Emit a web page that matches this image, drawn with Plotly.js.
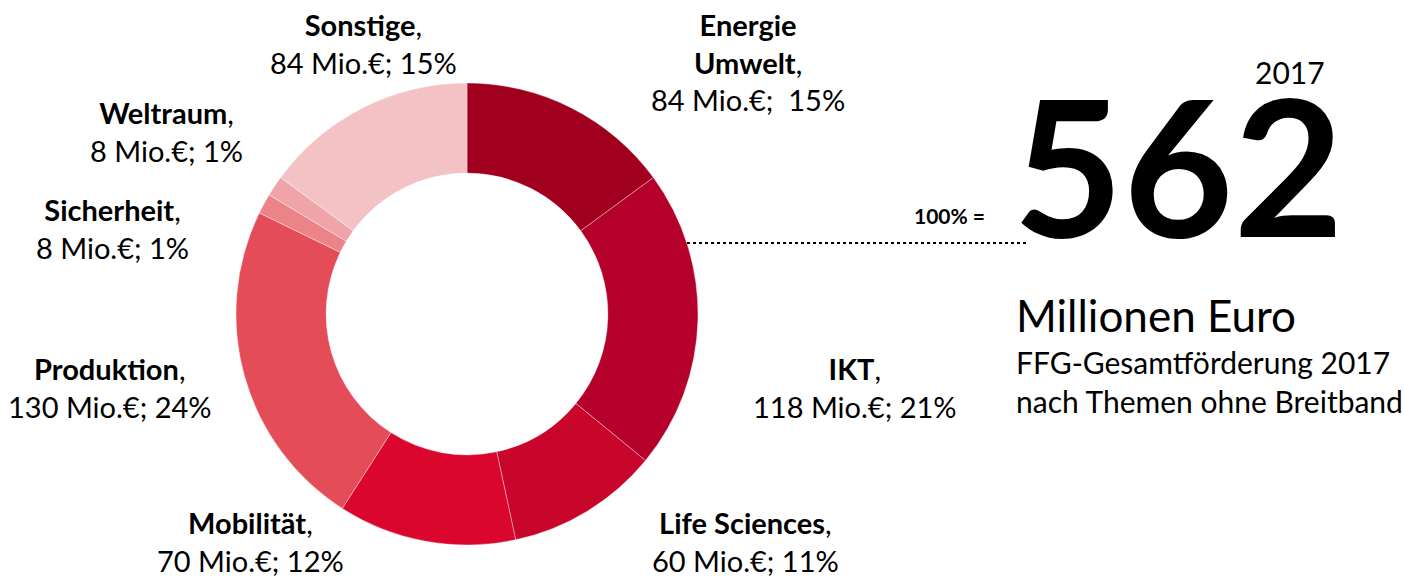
<!DOCTYPE html>
<html>
<head>
<meta charset="utf-8">
<script src="https://cdn.plot.ly/plotly-3.0.1.min.js"></script>
<style>
  body { margin: 0; background: #fff; }
  #chart { width: 1404px; height: 578px; }
</style>
</head>
<body>
<div id="chart"></div>
<script>
// FFG-Gesamtförderung 2017 nach Themen (Mio. €)
let themen = ["Energie Umwelt", "IKT", "Life Sciences", "Mobilität", "Produktion", "Sicherheit", "Weltraum", "Sonstige"];
let werte = [84, 118, 60, 70, 130, 8, 8, 84];
let prozent = [15, 21, 11, 12, 24, 1, 1, 15];
let farben = ["#A0001E", "#B4002A", "#C8062C", "#DA062E", "#E44C58", "#EB8489", "#EEA4A8", "#F2C2C5"];
let gesamt = 562;
let jahr = "2017";

const W = 1404;
const H = 578;
const px = (x) => x / W;
const py = (y) => 1 - y / H;

// label centres in pixels (x, centre y of the label block)
let labelPos = [
    [748, 62], [855, 387], [745, 541], [250, 541],
    [110, 387], [112, 228], [166, 132], [363, 43]
];

let ring = {
    type: 'pie',
    values: werte,
    labels: themen,
    marker: { colors: farben, line: { color: 'rgba(255,255,255,0.6)', width: 0.6 } },
    hole: 0.61,
    sort: false,
    direction: 'clockwise',
    rotation: 0,
    textinfo: 'none',
    hoverinfo: 'label+value+percent',
    domain: { x: [px(236), px(698)], y: [py(545), py(83)] }
};

let font = "Lato, 'Open Sans', sans-serif";
let annotations = [];

themen.forEach(function (t, i) {
    let name = t === "Energie Umwelt" ? "<b>Energie</b><br><b>Umwelt</b>" : "<b>" + t + "</b>";
    let sep = t === "Energie Umwelt" ? ";  " : "; ";
    annotations.push({
        xref: 'paper', yref: 'paper',
        x: px(labelPos[i][0]), y: py(labelPos[i][1]),
        xanchor: 'center', yanchor: 'middle',
        text: name + ",<br>" + werte[i] + " Mio.€" + sep + prozent[i] + "%",
        showarrow: false, align: 'center',
        font: { family: font, size: 29, color: '#000' }
    });
});

annotations.push(
    {
        xref: 'paper', yref: 'paper', x: px(1178), y: py(163),
        xanchor: 'center', yanchor: 'middle', showarrow: false,
        text: "<b>" + gesamt + "</b>",
        font: { family: font, size: 190, color: '#000', weight: 900 }
    },
    {
        xref: 'paper', yref: 'paper', x: px(1290), y: py(72),
        xanchor: 'center', yanchor: 'middle', showarrow: false,
        text: jahr, font: { family: font, size: 30, color: '#000' }
    },
    {
        xref: 'paper', yref: 'paper', x: px(949), y: py(216),
        xanchor: 'center', yanchor: 'middle', showarrow: false,
        text: "<b>100% =</b>", font: { family: font, size: 21, color: '#000' }
    },
    {
        xref: 'paper', yref: 'paper', x: px(1014), y: py(315),
        xanchor: 'left', yanchor: 'middle', showarrow: false,
        text: "Millionen Euro", font: { family: font, size: 44, color: '#000' }
    },
    {
        xref: 'paper', yref: 'paper', x: px(1014), y: py(381),
        xanchor: 'left', yanchor: 'middle', showarrow: false, align: 'left',
        text: "FFG-Gesamtförderung " + jahr + "<br>nach Themen ohne Breitband",
        font: { family: font, size: 30, color: '#000' }
    }
);

let layout = {
    width: W, height: H,
    margin: { l: 0, r: 0, t: 0, b: 0 },
    paper_bgcolor: '#fff', plot_bgcolor: '#fff',
    showlegend: false,
    annotations: annotations,
    shapes: [{
        type: 'line', xref: 'paper', yref: 'paper',
        x0: px(687), x1: px(1027), y0: py(243), y1: py(243),
        line: { color: '#000', width: 2, dash: 'dot' }
    }]
};

Plotly.newPlot('chart', [ring], layout, { displayModeBar: false, staticPlot: true });
</script>
</body>
</html>
